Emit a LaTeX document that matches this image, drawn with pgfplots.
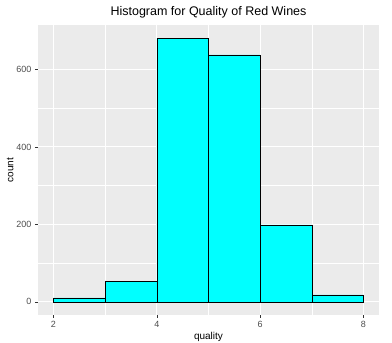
\documentclass[border=0pt]{standalone}
\usepackage{pgfplots}
\pgfplotsset{compat=1.18}
\usepackage{fontspec}
\setmainfont{Liberation Sans}
\definecolor{panelbg}{HTML}{EBEBEB}
\definecolor{ticklab}{HTML}{4D4D4D}
\definecolor{tickcol}{HTML}{333333}
\definecolor{aqua}{RGB}{0,255,255}
\begin{document}
\begin{tikzpicture}[x=1pt,y=1pt]
\path[use as bounding box] (0,0) rectangle (392,343);
\begin{axis}[
  at={(38pt,28pt)}, anchor=south west,
  scale only axis, width=341pt, height=290pt,
  xmin=1.7, xmax=8.3, ymin=-34.05, ymax=715.05,
  xtick={2,4,6,8}, ytick={0,200,400,600},
  minor xtick={3,5,7}, minor ytick={100,300,500},
  minor tick length=0pt, major tick length=3pt,
  tick align=outside,
  major tick style={tickcol, line width=0.5pt},
  xtick pos=bottom, ytick pos=left,
  axis line style={draw=none},
  axis background/.style={fill=panelbg},
  grid=both,
  major grid style={white, line width=1pt},
  minor grid style={white, line width=0.5pt},
  /pgf/number format/assume math mode=true,
  tick label style={font=\fontsize{9}{10}\selectfont, text=ticklab},
  xlabel={quality}, ylabel={count},
  label style={font=\fontsize{10}{12}\selectfont},
  xlabel style={yshift=3pt},
  ylabel style={yshift=-4pt},
  title={Histogram for Quality of Red Wines},
  title style={font=\fontsize{12.5}{14}\selectfont, yshift=-3pt},
]
\addplot[ybar interval, fill=aqua, draw=black, line width=0.5pt]
  coordinates {(2,10) (3,53) (4,681) (5,638) (6,199) (7,18) (8,18)};
\end{axis}
\end{tikzpicture}
\end{document}
